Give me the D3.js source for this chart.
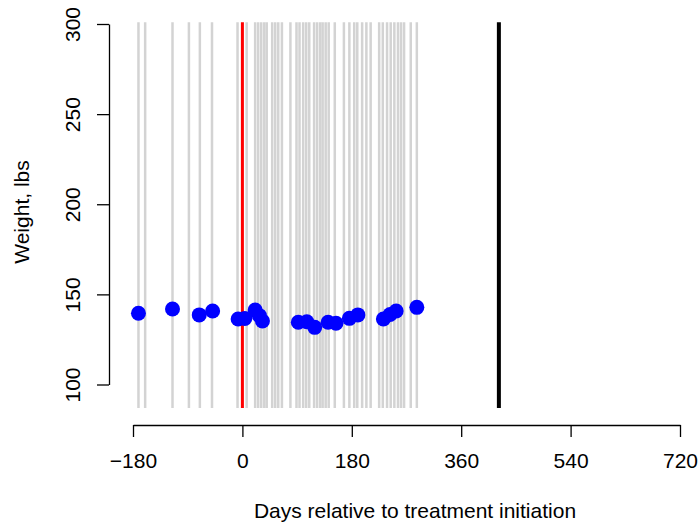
<!DOCTYPE html>
<html>
<head>
<meta charset="utf-8">
<title>Weight</title>
<script src="https://cdn.jsdelivr.net/npm/d3@7"></script>
<style>
  body { margin: 0; background: #fff; }
  svg { display: block; font-family: "Liberation Sans", Arial, sans-serif; }
</style>
</head>
<body>
<script>
// visit days (gray lines), relative to treatment start
var visitDays = [-171, -160, -115, -88, -70, -50, -8, 7, 21, 26, 31, 36, 40, 49, 54, 59, 65,
  79, 89, 94, 100, 105, 110, 118, 123, 128, 132, 137, 142, 152, 167, 176, 184, 189, 197,
  204, 211, 225, 231, 238, 244, 250, 256, 261, 266, 277, 287];
// weight measurements
var weightDays = [-171, -115, -71, -49, -7, 4, 21, 28, 33, 92, 106, 119, 141, 154, 176, 190, 232, 243, 253, 287];
var weights = [139.5, 141.9, 138.6, 140.8, 136.3, 136.6, 141.3, 138.2, 135.2, 134.5, 134.8, 131.7,
  134.5, 134, 136.7, 138.6, 136.3, 138.8, 140.8, 142.8];
var startDay = 0;      // red line
var endDay = 422;      // black line
var xTicks = [-180, 0, 180, 360, 540, 720];
var yTicks = [100, 150, 200, 250, 300];
var lineRange = [87, 301];

var W = 700, H = 527, fs = 21;

var svg = d3.select("body").append("svg")
  .attr("width", W).attr("height", H);

var x = d3.scaleLinear().domain([-180, 720]).range([133, 680]);
var y = d3.scaleLinear().domain([100, 300]).range([384.5, 24]);

// gray visit lines
svg.append("g").selectAll("line")
  .data(visitDays)
  .enter().append("line")
  .attr("x1", function(d) { return x(d); })
  .attr("x2", function(d) { return x(d); })
  .attr("y1", y(lineRange[0]))
  .attr("y2", y(lineRange[1]))
  .attr("stroke", "#d3d3d3")
  .attr("stroke-width", 2.5);

// start of treatment
svg.append("line")
  .attr("x1", x(startDay)).attr("x2", x(startDay))
  .attr("y1", y(lineRange[0])).attr("y2", y(lineRange[1]))
  .attr("stroke", "#ff0000").attr("stroke-width", 3);

// end line
svg.append("line")
  .attr("x1", x(endDay)).attr("x2", x(endDay))
  .attr("y1", y(lineRange[0])).attr("y2", y(lineRange[1]))
  .attr("stroke", "#000").attr("stroke-width", 4);

// points
svg.append("g").selectAll("circle")
  .data(weights)
  .enter().append("circle")
  .attr("cx", function(d, i) { return x(weightDays[i]); })
  .attr("cy", function(d) { return y(d); })
  .attr("r", 7.5)
  .attr("fill", "#0000ff");

// x axis
var xAxis = svg.append("g")
  .attr("transform", "translate(0,425)")
  .call(d3.axisBottom(x).tickValues(xTicks).tickSize(12).tickSizeOuter(0).tickPadding(16));
xAxis.select(".domain").attr("stroke", "#000").attr("stroke-width", 1.3);
xAxis.selectAll(".tick line").attr("stroke-width", 1.3);
xAxis.selectAll("text").attr("font-size", fs).attr("font-family", "Liberation Sans, Arial, sans-serif");

// y axis
var yAxis = svg.append("g")
  .attr("transform", "translate(109,0)")
  .call(d3.axisLeft(y).tickValues(yTicks).tickSize(12).tickSizeOuter(0));
yAxis.select(".domain").attr("stroke", "#000").attr("stroke-width", 1.3);
yAxis.selectAll(".tick line").attr("stroke-width", 1.3);
yAxis.selectAll("text")
  .attr("font-size", fs).attr("font-family", "Liberation Sans, Arial, sans-serif")
  .attr("x", null).attr("dy", null)
  .attr("text-anchor", "middle")
  .attr("transform", "translate(-29,0) rotate(-90)");

// titles
svg.append("text")
  .attr("x", 415).attr("y", 518)
  .attr("text-anchor", "middle")
  .attr("font-size", fs)
  .text("Days relative to treatment initiation");

svg.append("text")
  .attr("transform", "translate(29,212) rotate(-90)")
  .attr("text-anchor", "middle")
  .attr("font-size", fs)
  .text("Weight, lbs");
</script>
</body>
</html>
